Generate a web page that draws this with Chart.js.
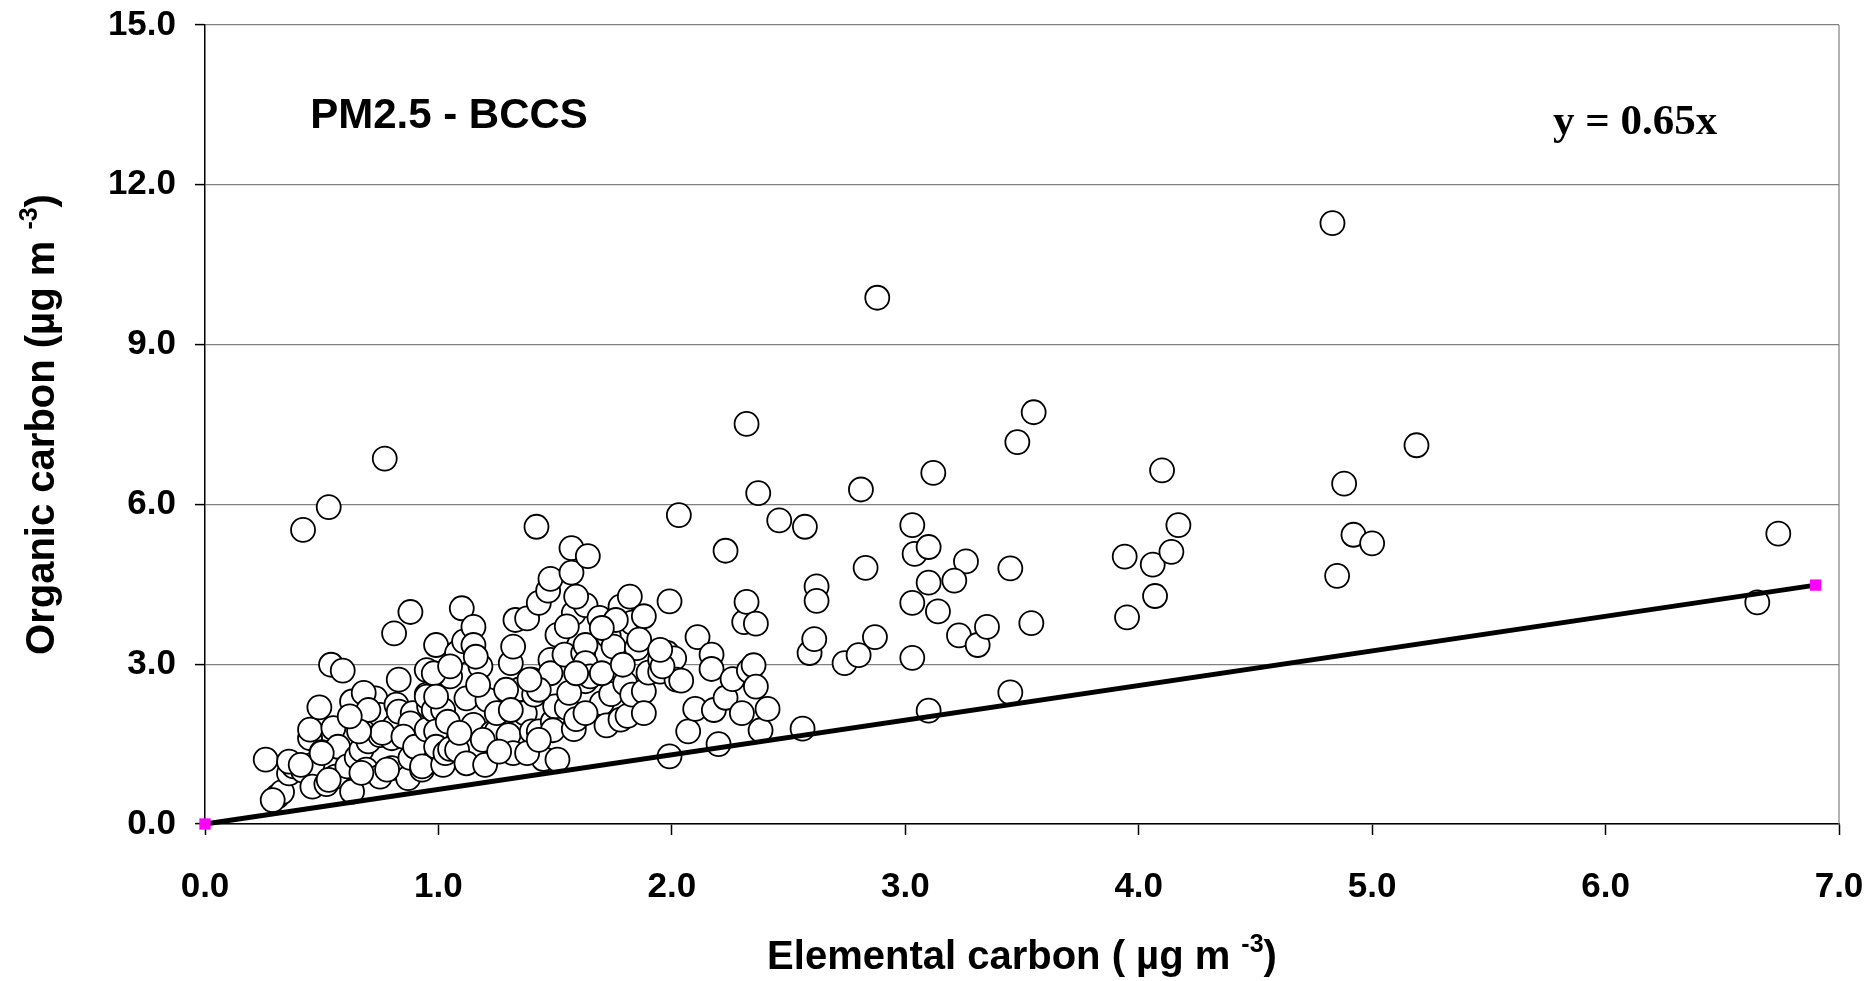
<!DOCTYPE html>
<html>
<head>
<meta charset="utf-8">
<script src="https://cdn.jsdelivr.net/npm/chart.js@4.4.0/dist/chart.umd.min.js"></script>
<style>
    html, body { margin: 0; padding: 0; background: #fff; overflow: hidden; }
    #wrap { width: 1873px; height: 981px; position: relative; }
</style>
</head>
<body>
<div id="wrap"><canvas id="myChart"></canvas></div>
<script>
// Elemental carbon (x) and organic carbon (y), ug m-3
const elementalCarbon = [
    0.26, 0.31, 0.33, 0.36, 0.38, 0.42, 0.45, 0.45, 0.46, 0.46,
    0.49, 0.50, 0.52, 0.54, 0.55, 0.56, 0.57, 0.59, 0.61, 0.63,
    0.63, 0.65, 0.67, 0.68, 0.69, 0.70, 0.73, 0.75, 0.75, 0.75,
    0.80, 0.80, 0.81, 0.81, 0.82, 0.83, 0.83, 0.87, 0.88, 0.88,
    0.89, 0.42, 0.53, 0.77,
    0.36, 0.41, 0.68, 0.70, 0.76, 0.66, 0.67, 0.50, 0.53, 0.29,
    0.88, 0.85, 0.90, 0.96, 0.93, 0.78, 0.62,
    0.93, 0.95, 0.95, 0.95, 0.95, 0.98, 0.99, 0.99, 0.99, 1.02,
    1.02, 1.03, 1.04, 1.05, 1.05, 1.08, 1.08, 1.10, 1.11, 1.12,
    1.12, 1.15, 1.15, 1.15, 1.18, 1.20, 1.21, 1.23, 1.25, 1.30,
    1.31, 1.32, 1.32, 1.33, 1.35, 1.37, 1.38, 1.40, 1.40, 1.41,
    1.42, 1.43, 1.43, 1.45, 1.47, 1.48, 1.48, 1.48, 1.49, 1.50,
    1.49, 1.51, 1.51, 1.54,
    1.16, 1.29, 1.43, 1.25, 1.31, 1.39, 1.17, 1.09, 1.19, 1.26,
    1.38, 0.98, 1.05, 0.99, 1.43,
    1.55, 1.57, 1.57, 1.58, 1.58, 1.59, 1.62, 1.63, 1.63, 1.63,
    1.63, 1.64, 1.65, 1.69, 1.70, 1.72, 1.73, 1.74, 1.75, 1.78,
    1.78, 1.80, 1.81, 1.82, 1.83, 1.83, 1.85, 1.88, 1.88, 1.90,
    1.95, 1.95, 1.98, 1.99, 1.99, 2.01, 2.02, 2.03, 2.04, 2.07,
    2.10, 2.11, 2.17, 2.17, 2.18, 2.20, 2.23, 2.23, 2.26, 2.30,
    2.31, 2.32, 2.32, 2.33, 2.35, 2.36, 2.36, 2.37, 2.38, 2.41,
    2.46, 2.56, 2.57, 2.59, 2.61, 2.62, 2.62, 2.74, 2.80, 2.81,
    2.83, 2.87, 2.88,
    1.56, 1.59, 1.70, 1.79, 1.96, 1.76, 1.70, 1.55, 1.59, 1.86,
    1.95, 1.63, 1.88,
    3.03, 3.04, 3.10, 3.12, 3.03, 3.10, 3.14, 3.26, 3.21, 3.23,
    3.31, 3.35, 3.03, 3.10, 3.48, 3.55, 3.45, 3.54, 3.45, 3.94,
    3.95, 4.10, 4.06, 4.07, 4.14, 4.17, 4.83, 4.88, 4.92, 4.85,
    5.00, 5.19, 6.65, 6.74
];
const organicCarbon = [
    1.21, 0.52, 0.60, 0.95, 1.08, 1.00, 1.61, 1.77, 1.11, 0.70,
    2.19, 1.35, 0.75, 2.99, 1.80, 0.89, 1.45, 2.88, 1.08, 0.61,
    2.30, 1.25, 1.39, 1.74, 1.02, 1.55, 2.36, 2.05, 1.67, 0.89,
    1.61, 1.05, 1.83, 3.58, 2.24, 2.71, 2.11, 0.86, 1.24, 3.98,
    2.08, 5.52, 5.95, 6.86,
    1.17, 1.11, 2.46, 2.14, 1.71, 1.74, 0.96, 1.33, 0.83, 0.45,
    1.89, 1.64, 1.45, 2.21, 1.02, 1.02, 2.02,
    1.08, 2.43, 2.89, 1.77, 2.39, 2.14, 3.36, 1.74, 1.45, 2.14,
    1.11, 1.33, 1.92, 2.77, 1.41, 3.21, 1.39, 4.05, 3.43, 2.36,
    1.14, 3.70, 3.36, 1.86, 2.96, 1.11, 2.33, 1.71, 1.74, 1.67,
    3.02, 3.33, 1.33, 3.83, 2.53, 2.08, 3.86, 2.71, 1.74, 2.43,
    5.58, 4.15, 1.74, 1.22, 4.38, 4.60, 3.08, 2.83, 1.92, 2.21,
    1.76, 1.21, 3.55, 3.18,
    3.14, 2.52, 2.52, 2.08, 2.14, 2.71, 2.61, 1.71, 1.58, 1.36,
    1.33, 2.83, 2.96, 2.39, 1.58,
    2.18, 5.18, 4.72, 3.96, 1.78, 1.97, 3.21, 4.11, 3.36, 3.02,
    2.68, 5.03, 2.77, 3.87, 2.27, 1.85, 3.52, 2.44, 3.33, 4.08,
    1.96, 2.64, 2.03, 4.27, 3.78, 2.43, 3.30, 3.90, 2.49, 2.84,
    3.08, 2.86, 3.21, 4.18, 1.27, 3.11, 2.71, 5.80, 2.69, 1.74,
    2.16, 3.51, 3.18, 2.91, 2.14, 1.50, 5.13, 2.37, 2.72, 2.08,
    3.79, 4.17, 7.51, 2.88, 2.98, 3.76, 2.58, 6.21, 1.76, 2.16,
    5.70, 1.79, 5.58, 3.21, 3.47, 4.46, 4.19, 3.02, 3.17, 6.28,
    4.81, 3.51, 9.88,
    2.46, 2.83, 2.83, 2.99, 2.96, 3.83, 3.68, 3.71, 4.27, 3.46,
    3.27, 2.08, 2.08,
    5.61, 5.07, 5.20, 6.59, 4.15, 4.53, 3.99, 4.93, 4.57, 3.54,
    3.36, 3.70, 3.12, 2.13, 7.17, 7.73, 4.80, 3.77, 2.47, 5.02,
    3.88, 6.64, 4.87, 4.28, 5.11, 5.61, 11.28, 6.39, 5.43, 4.66,
    5.27, 7.11, 4.16, 5.45
];

// y = 0.65x line, drawn between its two end markers
const fitX = [0, 6.9];
const fitY = [0, 4.485];

const xTickLabels = ['0.0', '1.0', '2.0', '3.0', '4.0', '5.0', '6.0', '7.0'];
const yTickLabels = ['0.0', '3.0', '6.0', '9.0', '12.0', '15.0'];

const sans = '"Liberation Sans", Arial, sans-serif';

// draws a line of bold text with superscript parts, centred on x
function drawSupText(ctx, parts, size, x, y) {
    const supSize = Math.round(size * 0.62);
    let total = 0;
    parts.forEach(p => {
        ctx.font = 'bold ' + (p[1] ? supSize : size) + 'px ' + sans;
        total += ctx.measureText(p[0]).width;
    });
    let cx = x - total / 2;
    parts.forEach(p => {
        ctx.font = 'bold ' + (p[1] ? supSize : size) + 'px ' + sans;
        ctx.fillText(p[0], cx, p[1] ? y - size * 0.42 : y);
        cx += ctx.measureText(p[0]).width;
    });
}

const annotations = {
    id: 'annotations',
    beforeDatasetsDraw(chart) {
        const a = chart.chartArea;
        const ctx = chart.ctx;
        ctx.save();
        ctx.strokeStyle = '#808080';
        ctx.lineWidth = 1.2;
        ctx.beginPath();
        ctx.moveTo(a.right, a.top);
        ctx.lineTo(a.right, a.bottom);
        ctx.stroke();
        ctx.restore();
    },
    afterDraw(chart) {
        const a = chart.chartArea;
        const ctx = chart.ctx;
        ctx.save();
        ctx.fillStyle = '#000';
        ctx.textAlign = 'left';
        ctx.textBaseline = 'alphabetic';

        // axis titles
        drawSupText(ctx, [['Elemental carbon ( \u00b5g m ', false], ['-3', true], [')', false]], 40, (a.left + a.right) / 2, 969);
        ctx.save();
        ctx.translate(54, (a.top + a.bottom) / 2);
        ctx.rotate(-Math.PI / 2);
        drawSupText(ctx, [['Organic carbon (\u00b5g m ', false], ['-3', true], [')', false]], 40, 0, 0);
        ctx.restore();

        // panel label and equation
        ctx.textAlign = 'center';
        ctx.font = 'bold 42px ' + sans;
        ctx.fillText('PM2.5 - BCCS', 449, 128);
        ctx.textAlign = 'left';
        ctx.font = 'bold 43px "Liberation Serif", "Times New Roman", serif';
        ctx.fillText('y = 0.65x', 1553, 134);
        ctx.restore();
    }
};

const points = elementalCarbon.map((x, i) => ({ x: x, y: organicCarbon[i] }));
const fitLine = fitX.map((x, i) => ({ x: x, y: fitY[i] }));

const ctx = document.getElementById('myChart').getContext('2d');

const myChart = new Chart(ctx, {
    type: 'scatter',
    data: {
        datasets: [{
            type: 'line',
            label: 'y = 0.65x',
            data: fitLine,
            borderColor: '#000',
            borderWidth: 5,
            pointStyle: 'rect',
            pointRadius: 8,
            pointBackgroundColor: '#ff00ff',
            pointBorderColor: '#ff00ff',
            pointBorderWidth: 0,
            tension: 0,
            clip: false,
            order: 0
        }, {
            label: 'PM2.5 - BCCS',
            data: points,
            pointRadius: 12,
            pointBorderWidth: 1.8,
            pointBorderColor: '#000',
            pointBackgroundColor: '#fff',
            order: 1
        }]
    },
    options: {
        responsive: true,
        maintainAspectRatio: false,
        animation: false,
        events: [],
        layout: {
            autoPadding: false,
            padding: { top: 25, right: 34, bottom: 0, left: 0 }
        },
        scales: {
            x: {
                type: 'linear',
                min: 0,
                max: 7,
                // fixed size; drop the label overhang so the layout padding decides the plot edges
                afterFit: s => {
                    s.height = 157;
                    s.paddingLeft = 0;
                    s.paddingRight = 0;
                },
                ticks: {
                    stepSize: 1,
                    padding: 31,
                    color: '#000',
                    maxRotation: 0,
                    autoSkip: false,
                    font: { family: sans, size: 35, weight: 'bold' },
                    callback: function(value, index) {
                        return xTickLabels[index];
                    }
                },
                grid: {
                    drawOnChartArea: false,
                    drawTicks: true,
                    tickLength: 11,
                    tickColor: '#000',
                    tickWidth: 1.5
                },
                border: { color: '#000', width: 1.5 }
            },
            y: {
                type: 'linear',
                min: 0,
                max: 15,
                afterFit: s => {
                    s.width = 205;
                    s.paddingTop = 0;
                    s.paddingBottom = 0;
                },
                ticks: {
                    stepSize: 3,
                    padding: 19,
                    color: '#000',
                    font: { family: sans, size: 35, weight: 'bold' },
                    callback: function(value, index) {
                        return yTickLabels[index];
                    }
                },
                grid: {
                    color: '#808080',
                    lineWidth: 1.2,
                    tickLength: 10,
                    tickColor: '#000',
                    tickWidth: 1.5
                },
                border: { color: '#000', width: 1.5 }
            }
        },
        plugins: {
            legend: { display: false },
            tooltip: { enabled: false }
        }
    },
    plugins: [annotations]
});
</script>
</body>
</html>
